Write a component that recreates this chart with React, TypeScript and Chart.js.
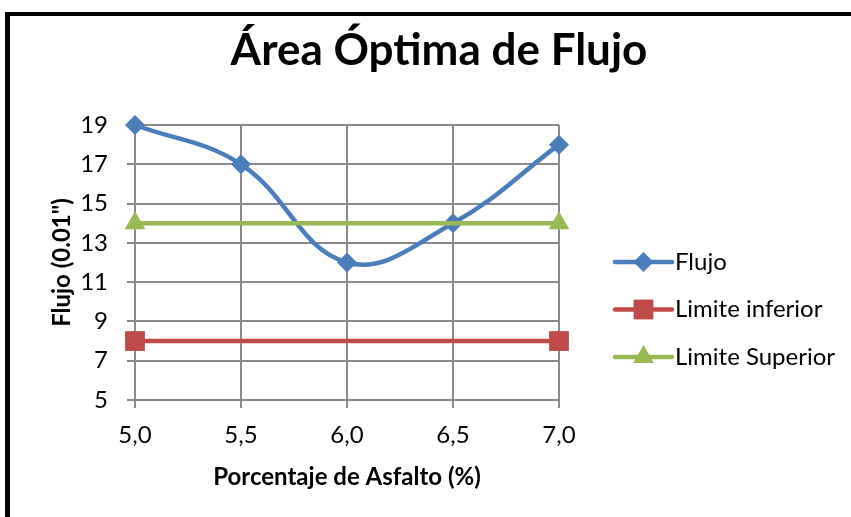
import React, { useEffect, useRef } from 'react';
import { Chart, registerables } from 'chart.js';

Chart.register(...registerables);

const xValues = [5.0, 5.5, 6.0, 6.5, 7.0];
const xTickLabels = ['5,0', '5,5', '6,0', '6,5', '7,0'];
const flujo = [19, 17, 12, 14, 18];
const limiteX = [5.0, 7.0];
const limiteInferior = [8, 8];
const limiteSuperior = [14, 14];
const yTicks = [5, 7, 9, 11, 13, 15, 17, 19];
const seriesNames = ['Flujo', 'Limite inferior', 'Limite Superior'];
const chartTitle = 'Área Óptima de Flujo';
const xTitle = 'Porcentaje de Asfalto (%)';
const yTitle = 'Flujo (0.01")';

const BLUE = '#4A7EBB';
const RED = '#BE4B48';
const GREEN = '#98B954';
const GRID = '#8a8a8a';
const FONT = 'Lato';

const markerInfo = [
  { style: 'rectRot', r: 10, color: BLUE },
  { style: 'rect', r: 14, color: RED },
  { style: 'triangle', r: 12, color: GREEN },
];

function drawMarker(ctx: CanvasRenderingContext2D, style: string, x: number, y: number, r: number, color: string) {
  ctx.fillStyle = color;
  ctx.beginPath();
  if (style === 'rectRot') {
    ctx.moveTo(x, y - r);
    ctx.lineTo(x + r, y);
    ctx.lineTo(x, y + r);
    ctx.lineTo(x - r, y);
  } else if (style === 'rect') {
    const s = Math.SQRT1_2 * r;
    ctx.rect(x - s, y - s, 2 * s, 2 * s);
  } else {
    const w = r * Math.sin(Math.PI / 3);
    ctx.moveTo(x, y - r);
    ctx.lineTo(x + w, y + r / 2);
    ctx.lineTo(x - w, y + r / 2);
  }
  ctx.closePath();
  ctx.fill();
}

const decorPlugin = {
  id: 'decor',
  afterDraw(chart: any) {
    const ctx: CanvasRenderingContext2D = chart.ctx;
    ctx.save();
    // Title
    ctx.fillStyle = '#000';
    ctx.font = `bold 44px ${FONT}`;
    ctx.textAlign = 'center';
    ctx.textBaseline = 'alphabetic';
    ctx.fillText(chartTitle, 429, 49);
    // Legend
    const lx0 = 605;
    const lx1 = 662;
    const ly0 = 246;
    const step = 47.5;
    seriesNames.forEach((name, i) => {
      const y = ly0 + i * step;
      const m = markerInfo[i];
      ctx.strokeStyle = m.color;
      ctx.lineWidth = 4.5;
      ctx.lineCap = 'round';
      ctx.beginPath();
      ctx.moveTo(lx0, y);
      ctx.lineTo(lx1, y);
      ctx.stroke();
      drawMarker(ctx, m.style, (lx0 + lx1) / 2, y, m.r, m.color);
      ctx.fillStyle = '#000';
      ctx.font = `24px ${FONT}`;
      ctx.textAlign = 'left';
      ctx.textBaseline = 'middle';
      ctx.fillText(name, 665, y);
    });
    ctx.restore();
  },
};

export default function App() {
  const ref = useRef<HTMLCanvasElement | null>(null);
  useEffect(() => {
    if (!ref.current) return;
    const chart = new Chart(ref.current, {
      type: 'line',
      data: {
        datasets: [
          {
            label: seriesNames[0],
            data: xValues.map((x, i) => ({ x, y: flujo[i] })),
            borderColor: BLUE,
            backgroundColor: BLUE,
            borderWidth: 4.5,
            tension: 0.4,
            pointStyle: 'rectRot',
            pointRadius: 10,
            pointBorderWidth: 0,
            pointBackgroundColor: BLUE,
            clip: false,
            order: 2,
          },
          {
            label: seriesNames[1],
            data: limiteX.map((x, i) => ({ x, y: limiteInferior[i] })),
            borderColor: RED,
            backgroundColor: RED,
            borderWidth: 4.5,
            pointStyle: 'rect',
            pointRadius: 14,
            pointBorderWidth: 0,
            pointBackgroundColor: RED,
            clip: false,
            order: 1,
          },
          {
            label: seriesNames[2],
            data: limiteX.map((x, i) => ({ x, y: limiteSuperior[i] })),
            borderColor: GREEN,
            backgroundColor: GREEN,
            borderWidth: 4.5,
            pointStyle: 'triangle',
            pointRadius: 12,
            pointBorderWidth: 0,
            pointBackgroundColor: GREEN,
            clip: false,
            order: 0,
          },
        ],
      },
      options: {
        responsive: false,
        animation: false,
        layout: { padding: { left: 17, top: 109, right: 292, bottom: 0 } },
        plugins: {
          legend: { display: false },
          title: { display: false },
          tooltip: { enabled: false },
        },
        scales: {
          x: {
            type: 'linear',
            min: 5,
            max: 7,
            afterBuildTicks: (s: any) => {
              s.ticks = xValues.map((v) => ({ value: v }));
            },
            afterFit: (s: any) => {
              s.height = 117;
            },
            ticks: {
              callback: (v: any) => {
                const i = xValues.indexOf(Number(v));
                return i >= 0 ? xTickLabels[i] : '';
              },
              color: '#000',
              font: { family: FONT, size: 24 },
              padding: 13,
              maxRotation: 0,
              autoSkip: false,
            },
            grid: { color: GRID, lineWidth: 2, tickLength: 8, drawTicks: true },
            border: { color: GRID, width: 2 },
            title: {
              display: true,
              text: xTitle,
              color: '#000',
              font: { family: FONT, size: 24, weight: 'bold' },
              padding: { top: 0, bottom: 25.6 },
            },
          },
          y: {
            type: 'linear',
            min: 5,
            max: 19,
            afterBuildTicks: (s: any) => {
              s.ticks = yTicks.map((v) => ({ value: v }));
            },
            afterFit: (s: any) => {
              s.width = 108;
            },
            ticks: {
              color: '#000',
              font: { family: FONT, size: 24 },
              padding: 19,
              autoSkip: false,
            },
            grid: { color: GRID, lineWidth: 2, tickLength: 8, drawTicks: true },
            border: { color: GRID, width: 2 },
            title: {
              display: true,
              text: yTitle,
              color: '#000',
              font: { family: FONT, size: 24, weight: 'bold' },
              padding: { top: 20.6, bottom: 0 },
            },
          },
        },
      },
      plugins: [decorPlugin],
    } as any);
    return () => chart.destroy();
  }, []);

  return (
    <div
      style={{
        position: 'absolute',
        left: 5,
        top: 12,
        width: 846,
        height: 505,
        borderLeft: '5px solid #000',
        borderTop: '4px solid #000',
        background: '#fff',
        overflow: 'hidden',
      }}
    >
      <canvas ref={ref} width={841} height={501} style={{ display: 'block' }} />
    </div>
  );
}
